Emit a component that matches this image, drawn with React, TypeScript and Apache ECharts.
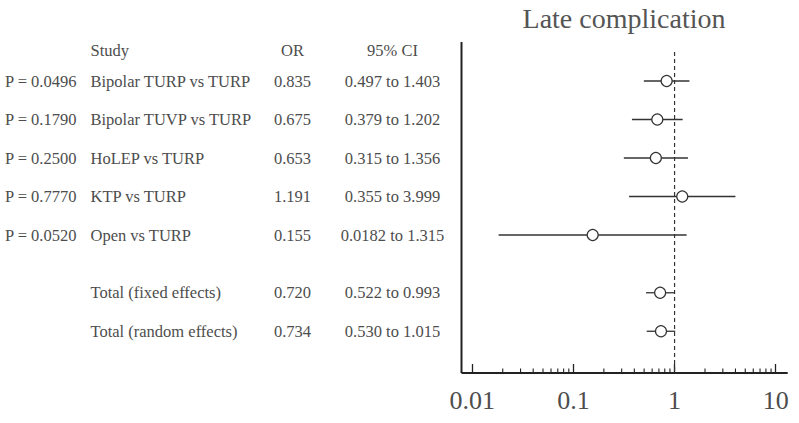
import React, { useEffect, useRef } from "react";
import * as echarts from "echarts";

const studies = [
  "Bipolar TURP vs TURP",
  "Bipolar TUVP vs TURP",
  "HoLEP vs TURP",
  "KTP vs TURP",
  "Open vs TURP",
  "Total (fixed effects)",
  "Total (random effects)",
];
const pValues = ["P = 0.0496", "P = 0.1790", "P = 0.2500", "P = 0.7770", "P = 0.0520", "", ""];
const oddsRatios = [0.835, 0.675, 0.653, 1.191, 0.155, 0.72, 0.734];
const ciLower = [0.497, 0.379, 0.315, 0.355, 0.0182, 0.522, 0.53];
const ciUpper = [1.403, 1.202, 1.356, 3.999, 1.315, 0.993, 1.015];
const rowPos = [0, 1, 2, 3, 4, 5.5, 6.5];
const headers = ["Study", "OR", "95% CI"];
const headerPos = -0.8;
const minorTicks = [
  0.02, 0.03, 0.04, 0.05, 0.06, 0.07, 0.08, 0.09,
  0.2, 0.3, 0.4, 0.5, 0.6, 0.7, 0.8, 0.9,
  2, 3, 4, 5, 6, 7, 8, 9,
];
const titleText = "Late complication";

const Y_MIN = -1.013;
const Y_MAX = 7.584;
const FONT = "'Liberation Serif', 'DejaVu Serif', serif";
const TEXT_COLOR = "#4d4d4d";

const fmtNum = (v: number) => (v < 0.1 ? String(v) : v.toFixed(3));

export default function App() {
  const ref = useRef<HTMLDivElement>(null);

  useEffect(() => {
    if (!ref.current) return;
    const chart = echarts.init(ref.current, null, { renderer: "svg" });

    const textStyle = (text: string, x: number, y: number, align: string) => ({
      type: "text",
      style: {
        text,
        x,
        y,
        align,
        verticalAlign: "middle",
        fontSize: 16.5,
        fontFamily: FONT,
        fill: TEXT_COLOR,
      },
    });

    const option: any = {
      animation: false,
      backgroundColor: "#ffffff",
      title: {
        text: titleText,
        left: 619,
        top: -1,
        textAlign: "center",
        textStyle: {
          fontFamily: FONT,
          fontSize: 28,
          fontWeight: "normal",
          color: "#555555",
        },
      },
      grid: {
        left: 472.3,
        width: 303.4,
        top: 42,
        height: 331,
        containLabel: false,
      },
      xAxis: {
        type: "log",
        logBase: 10,
        min: 0.01,
        max: 10,
        splitNumber: 3,
        position: "bottom",
        axisLine: { show: false, onZero: false },
        axisTick: {
          show: true,
          inside: true,
          length: 9,
          lineStyle: { color: "#222", width: 1.3 },
        },
        splitLine: { show: false },
        axisLabel: {
          margin: 14,
          fontFamily: FONT,
          fontSize: 26,
          color: TEXT_COLOR,
          formatter: (v: number) => String(Number(Number(v).toPrecision(2))),
        },
      },
      yAxis: {
        type: "value",
        inverse: true,
        min: Y_MIN,
        max: Y_MAX,
        show: false,
      },
      graphic: [
        {
          type: "line",
          shape: { x1: 461.5, y1: 42, x2: 461.5, y2: 373 },
          style: { stroke: "#222", lineWidth: 2 },
          z: 10,
        },
        {
          type: "line",
          shape: { x1: 461.5, y1: 373, x2: 787.7, y2: 373 },
          style: { stroke: "#222", lineWidth: 2 },
          z: 10,
        },
      ],
      series: [
        {
          type: "line",
          data: [
            [1, -0.753],
            [1, Y_MAX],
          ],
          symbol: "none",
          lineStyle: { color: "#333", width: 1.2, type: [4, 3] },
          silent: true,
          z: 1,
        },
        {
          type: "custom",
          clip: false,
          silent: true,
          data: minorTicks.map((v) => [v, Y_MAX]),
          encode: { x: 0, y: 1 },
          renderItem: (params: any, api: any) => {
            const p = api.coord([api.value(0), api.value(1)]);
            return {
              type: "line",
              shape: { x1: p[0], y1: p[1], x2: p[0], y2: p[1] - 4.5 },
              style: { stroke: "#222", lineWidth: 1.1 },
            };
          },
        },
        {
          type: "custom",
          clip: false,
          silent: true,
          data: rowPos.map((p, i) => [ciLower[i], ciUpper[i], p]),
          encode: { x: [0, 1], y: 2 },
          renderItem: (params: any, api: any) => {
            const lo = api.coord([api.value(0), api.value(2)]);
            const hi = api.coord([api.value(1), api.value(2)]);
            return {
              type: "line",
              shape: { x1: lo[0], y1: lo[1], x2: hi[0], y2: hi[1] },
              style: { stroke: "#333", lineWidth: 1.3 },
            };
          },
          z: 3,
        },
        {
          type: "scatter",
          data: rowPos.map((p, i) => [oddsRatios[i], p]),
          symbol: "circle",
          symbolSize: 11,
          itemStyle: { color: "#ffffff", borderColor: "#333", borderWidth: 1.2, opacity: 1 },
          silent: true,
          z: 5,
        },
        {
          type: "custom",
          clip: false,
          silent: true,
          data: rowPos.map((p) => [1, p]),
          encode: { x: 0, y: 1 },
          renderItem: (params: any, api: any) => {
            const i = params.dataIndex;
            const y = api.coord([1, api.value(1)])[1];
            return {
              type: "group",
              children: [
                textStyle(pValues[i], 5, y, "left"),
                textStyle(studies[i], 90.5, y, "left"),
                textStyle(oddsRatios[i].toFixed(3), 292.5, y, "center"),
                textStyle(`${fmtNum(ciLower[i])} to ${fmtNum(ciUpper[i])}`, 392.5, y, "center"),
              ],
            };
          },
        },
        {
          type: "custom",
          clip: false,
          silent: true,
          data: [[1, headerPos]],
          encode: { x: 0, y: 1 },
          renderItem: (params: any, api: any) => {
            const y = api.coord([1, api.value(1)])[1];
            return {
              type: "group",
              children: [
                textStyle(headers[0], 90.5, y, "left"),
                textStyle(headers[1], 292.5, y, "center"),
                textStyle(headers[2], 392.5, y, "center"),
              ],
            };
          },
        },
      ],
    };

    chart.setOption(option);
    return () => chart.dispose();
  }, []);

  return (
    <div
      ref={ref}
      style={{ position: "fixed", left: 0, top: 0, width: 799, height: 423, background: "#fff" }}
    />
  );
}
